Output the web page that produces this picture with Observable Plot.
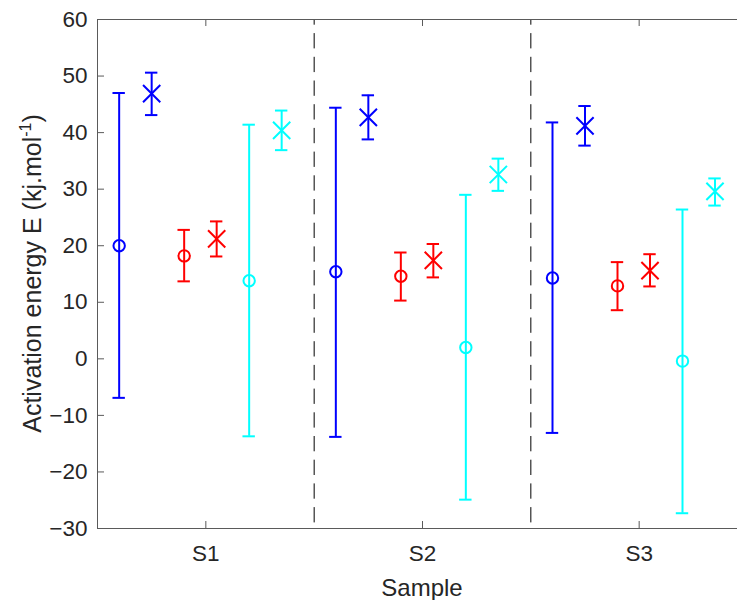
<!DOCTYPE html>
<html>
<head>
<meta charset="utf-8">
<script src="https://cdn.jsdelivr.net/npm/d3@7"></script>
<script src="https://cdn.jsdelivr.net/npm/@observablehq/plot@0.6"></script>
<style>
html, body { margin: 0; padding: 0; background: #fff; overflow: hidden; }
#wrap { width: 737px; height: 600px; overflow: hidden; }
#wrap svg { max-width: none !important; display: block; }
#wrap svg g[aria-label$="tick label"] { font-size: 22.5px; }
</style>
</head>
<body>
<div id="wrap"></div>
<script>
// ---- data ----
const samples = ["S1", "S2", "S3"];
const yTicks = [-30, -20, -10, 0, 10, 20, 30, 40, 50, 60];

// blue series
const blueCircleMean = [20.0, 15.4, 14.3];
const blueCircleLow  = [-6.9, -13.8, -13.1];
const blueCircleHigh = [47.0, 44.4, 41.8];
const blueCrossMean  = [46.9, 42.7, 41.2];
const blueCrossLow   = [43.1, 38.8, 37.7];
const blueCrossHigh  = [50.6, 46.6, 44.7];
// red series
const redCircleMean  = [18.2, 14.6, 12.9];
const redCircleLow   = [13.7, 10.3, 8.6];
const redCircleHigh  = [22.8, 18.8, 17.1];
const redCrossMean   = [21.2, 17.4, 15.6];
const redCrossLow    = [18.1, 14.4, 12.8];
const redCrossHigh   = [24.3, 20.3, 18.5];
// cyan series
const cyanCircleMean = [13.8, 2.0, -0.4];
const cyanCircleLow  = [-13.7, -24.9, -27.3];
const cyanCircleHigh = [41.4, 29.0, 26.4];
const cyanCrossMean  = [40.4, 32.6, 29.6];
const cyanCrossLow   = [36.9, 29.7, 27.1];
const cyanCrossHigh  = [43.9, 35.4, 31.9];

// ---- layout constants ----
const W = 750, H = 600;
const mLeft = 97, mRight = 3, mTop = 19, mBottom = 72;
const pxPerUnit = (W - mLeft - mRight) / 3;
const capHalf = 6.2 / pxPerUnit;
const offsets = [-0.4, -0.25, -0.1, 0.05, 0.2, 0.35];
const frameW = W - mLeft - mRight, frameH = H - mTop - mBottom;

const seriesDefs = [
  {group: "blue", kind: "o", mean: blueCircleMean, low: blueCircleLow, high: blueCircleHigh},
  {group: "blue", kind: "x", mean: blueCrossMean,  low: blueCrossLow,  high: blueCrossHigh},
  {group: "red",  kind: "o", mean: redCircleMean,  low: redCircleLow,  high: redCircleHigh},
  {group: "red",  kind: "x", mean: redCrossMean,   low: redCrossLow,   high: redCrossHigh},
  {group: "cyan", kind: "o", mean: cyanCircleMean, low: cyanCircleLow, high: cyanCircleHigh},
  {group: "cyan", kind: "x", mean: cyanCrossMean,  low: cyanCrossLow,  high: cyanCrossHigh}
];
const rows = [];
seriesDefs.forEach((s, si) => {
  samples.forEach((name, i) => {
    rows.push({sample: name, x: i + 1 + offsets[si], group: s.group, kind: s.kind,
               mean: s.mean[i], low: s.low[i], high: s.high[i]});
  });
});
const circles = rows.filter(d => d.kind === "o");
const crosses = rows.filter(d => d.kind === "x");

const axisColor = "#5a5a5a";
const textColor = "#262626";
const fontFam = "'Liberation Sans', Arial, Helvetica, sans-serif";
const lw = 2;

const chart = Plot.plot({
  width: W, height: H,
  marginLeft: mLeft, marginRight: mRight, marginTop: mTop, marginBottom: mBottom,
  style: {fontFamily: fontFam, fontSize: "22px", color: textColor, background: "#fff", maxWidth: "none"},
  x: {domain: [0.5, 3.5], axis: null},
  y: {domain: [-30, 60], axis: null},
  color: {domain: ["blue", "red", "cyan"], range: ["#0000ff", "#ff0000", "#00ffff"]},
  marks: [
    Plot.ruleX([1.5, 2.5], {stroke: "#000", strokeWidth: 1, strokeDasharray: "15.3,8.4", strokeDashoffset: 9.6}),
    Plot.ruleX(rows, {x: "x", y1: "low", y2: "high", stroke: "group", strokeWidth: lw}),
    Plot.ruleY(rows, {y: "high", x1: d => d.x - capHalf, x2: d => d.x + capHalf, stroke: "group", strokeWidth: lw}),
    Plot.ruleY(rows, {y: "low", x1: d => d.x - capHalf, x2: d => d.x + capHalf, stroke: "group", strokeWidth: lw}),
    Plot.dot(circles, {x: "x", y: "mean", stroke: "group", fill: "none", r: 5.7, strokeWidth: lw}),
    Plot.dot(crosses, {x: "x", y: "mean", stroke: "group", symbol: "times", r: 7.9, strokeWidth: lw}),
    // inward ticks
    Plot.tickY(yTicks, {y: d => d, stroke: axisColor, insetRight: frameW - 7}),
    Plot.tickX([1, 2, 3], {x: d => d, stroke: axisColor, insetTop: frameH - 7}),
    Plot.tickX([1, 2, 3], {x: d => d, stroke: axisColor, insetBottom: frameH - 7}),
    Plot.frame({stroke: axisColor, strokeWidth: 1}),
    Plot.axisY(yTicks, {tickSize: 0, tickPadding: 10, fontSize: 22.5, label: null, color: textColor}),
    Plot.axisX([1, 2, 3], {tickSize: 0, tickPadding: 17, fontSize: 22.5, label: null, color: textColor,
                           tickFormat: d => samples[d - 1]})
  ]
});
chart.style.maxWidth = "none";
document.getElementById("wrap").appendChild(chart);

// axis titles as real text
const svg = d3.select(chart);
svg.append("text")
  .attr("x", mLeft + frameW / 2).attr("y", 596)
  .attr("text-anchor", "middle")
  .attr("font-size", 24).attr("fill", textColor)
  .attr("font-family", fontFam)
  .text("Sample");
const yl = svg.append("text")
  .attr("transform", `translate(40.5,${mTop + frameH / 2}) rotate(-90)`)
  .attr("text-anchor", "middle")
  .attr("font-size", 25).attr("fill", textColor)
  .attr("font-family", fontFam);
yl.append("tspan").text("Activation energy E (kj.mol");
yl.append("tspan").attr("font-size", 16).attr("dy", -10).text("-1");
yl.append("tspan").attr("dy", 10).text(")");
</script>
</body>
</html>
